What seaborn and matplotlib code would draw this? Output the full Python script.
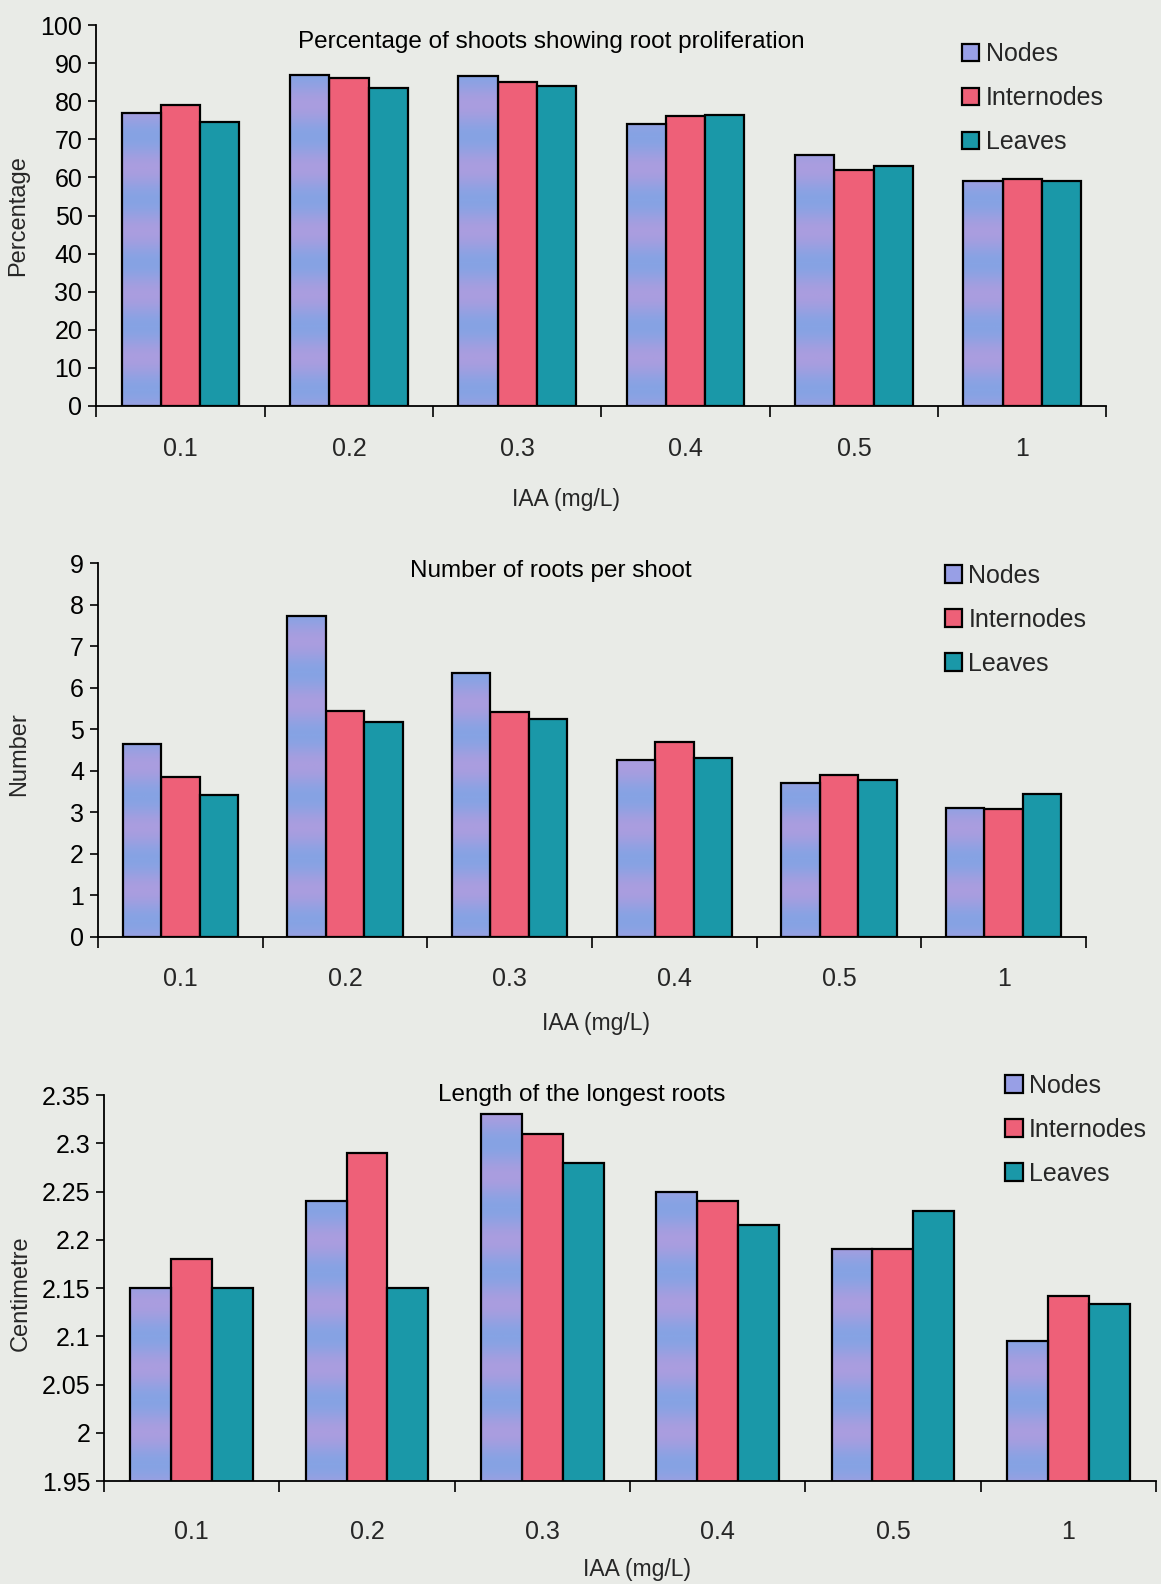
import matplotlib
matplotlib.use("Agg")
import matplotlib.pyplot as plt
import seaborn as sns
import pandas as pd
import numpy as np
from matplotlib.patches import Patch
from matplotlib.colors import LinearSegmentedColormap

# ---------------- data ----------------
concentrations = ["0.1", "0.2", "0.3", "0.4", "0.5", "1"]
explants = ["Nodes", "Internodes", "Leaves"]

pct_nodes = [77, 87, 86.5, 74, 66, 59]
pct_internodes = [79, 86, 85, 76, 62, 59.5]
pct_leaves = [74.5, 83.5, 84, 76.5, 63, 59]

num_nodes = [4.65, 7.72, 6.35, 4.25, 3.7, 3.1]
num_internodes = [3.86, 5.45, 5.42, 4.7, 3.9, 3.08]
num_leaves = [3.41, 5.17, 5.25, 4.32, 3.78, 3.43]

len_nodes = [2.15, 2.24, 2.33, 2.25, 2.19, 2.095]
len_internodes = [2.18, 2.29, 2.31, 2.24, 2.19, 2.142]
len_leaves = [2.15, 2.15, 2.28, 2.215, 2.23, 2.133]

titles = ["Percentage of shoots showing root proliferation",
          "Number of roots per shoot",
          "Length of the longest roots"]
ylabels = ["Percentage", "Number", "Centimetre"]
xlabel = "IAA (mg/L)"

pct_ticks = [0, 10, 20, 30, 40, 50, 60, 70, 80, 90, 100]
num_ticks = [0, 1, 2, 3, 4, 5, 6, 7, 8, 9]
len_ticks = [1.95, 2.0, 2.05, 2.1, 2.15, 2.2, 2.25, 2.3, 2.35]


def long_form(nodes, internodes, leaves):
    rows = []
    for name, vals in zip(explants, [nodes, internodes, leaves]):
        for c, v in zip(concentrations, vals):
            rows.append({"IAA": c, "Explant": name, "value": v})
    return pd.DataFrame(rows)


# ---------------- style ----------------
sns.set_theme(style="white")
plt.rcParams["font.family"] = ["Liberation Sans", "DejaVu Sans"]

BG = "#e9ebe7"
colors = ["#989fe6", "#ee6078", "#1a98a8"]
band_cmap = LinearSegmentedColormap.from_list("band", ["#aa9ddf", "#86a3e4"])

fig = plt.figure(figsize=(11.61, 15.84), dpi=100, facecolor=BG)

axes_rects = [
    [0.083, 0.7437, 0.870, 0.2405],
    [0.0844, 0.4085, 0.851, 0.236],
    [0.0896, 0.065, 0.906, 0.2437],
]
datasets = [
    (pct_nodes, pct_internodes, pct_leaves, pct_ticks, (0, 100)),
    (num_nodes, num_internodes, num_leaves, num_ticks, (0, 9)),
    (len_nodes, len_internodes, len_leaves, len_ticks, (1.95, 2.35)),
]
title_pos = [(0.45, 0.955), (0.458, 0.98), (0.454, 1.0)]
legend_pos = [(0.857, 0.955), (0.857, 0.998), (0.857, 1.055)]
ylabel_pos = [(-0.067, 0.5), (-0.069, 0.49), (-0.0685, 0.487)]
xlabel_pos = [(0.465, -0.215), (0.504, -0.2), (0.507, -0.2)]
xtick_pad = [22, 22, 28]

for k, rect in enumerate(axes_rects):
    n, i, l, ticks, lim = datasets[k]
    ax = fig.add_axes(rect)
    ax.set_facecolor(BG)
    df = long_form(n, i, l)
    sns.barplot(data=df, x="IAA", y="value", hue="Explant",
                order=concentrations, hue_order=explants,
                palette=colors, saturation=1, width=0.7,
                edgecolor="black", linewidth=1.6, errorbar=None,
                legend=False, ax=ax)
    ax.set_ylim(*lim)
    ax.set_xlim(-0.5, 5.5)

    # banded lavender/blue texture on the Nodes bars
    span = lim[1] - lim[0]
    for p in ax.containers[0]:
        x0, w = p.get_x(), p.get_width()
        top = p.get_y() + p.get_height()
        bot = max(p.get_y(), lim[0])
        yy = np.linspace(bot, top, 200)
        band = 0.5 + 0.5 * np.sin((yy - lim[0]) / span * 2 * np.pi * 6.0)
        img = ax.imshow(band[::-1, None], cmap=band_cmap, vmin=0, vmax=1,
                        extent=(x0, x0 + w, bot, top), aspect="auto",
                        interpolation="bilinear", zorder=1.5)
        img.set_clip_path(p)
        p.set_facecolor("none")
        p.set_zorder(2)
    ax.set_xlim(-0.5, 5.5)
    ax.set_ylim(*lim)

    ax.set_yticks(ticks)
    ax.set_yticklabels([f"{t:g}" for t in ticks])
    ax.tick_params(axis="y", length=6, width=1.2, pad=4,
                   labelsize=18, colors="black", direction="out",
                   left=True)
    ax.set_xticks(range(len(concentrations)))
    ax.set_xticklabels(concentrations)
    ax.tick_params(axis="x", which="major", length=0,
                   pad=xtick_pad[k], labelsize=18)
    ax.set_xticks(np.arange(-0.5, len(concentrations), 1.0), minor=True)
    ax.tick_params(axis="x", which="minor", length=8, width=1.2,
                   direction="out", bottom=True, color="black")
    for s in ["top", "right"]:
        ax.spines[s].set_visible(False)
    for s in ["left", "bottom"]:
        ax.spines[s].set_color("black")
        ax.spines[s].set_linewidth(1.3)

    ax.set_xlabel(xlabel, fontsize=16.5)
    ax.xaxis.set_label_coords(*xlabel_pos[k])
    ax.set_ylabel(ylabels[k], fontsize=17)
    ax.yaxis.set_label_coords(*ylabel_pos[k])

    ax.text(title_pos[k][0], title_pos[k][1], titles[k],
            transform=ax.transAxes, ha="center", va="center",
            fontsize=17.5, color="black")

    handles = [Patch(facecolor=c, edgecolor="black", linewidth=1.6) for c in colors]
    ax.legend(handles, explants, loc="upper left", bbox_to_anchor=legend_pos[k],
              frameon=False, fontsize=18, handlelength=0.7,
              handleheight=0.7, handletextpad=0.25, labelspacing=0.8,
              borderaxespad=0, borderpad=0)

fig.savefig("out.png", dpi=100, facecolor=BG)
